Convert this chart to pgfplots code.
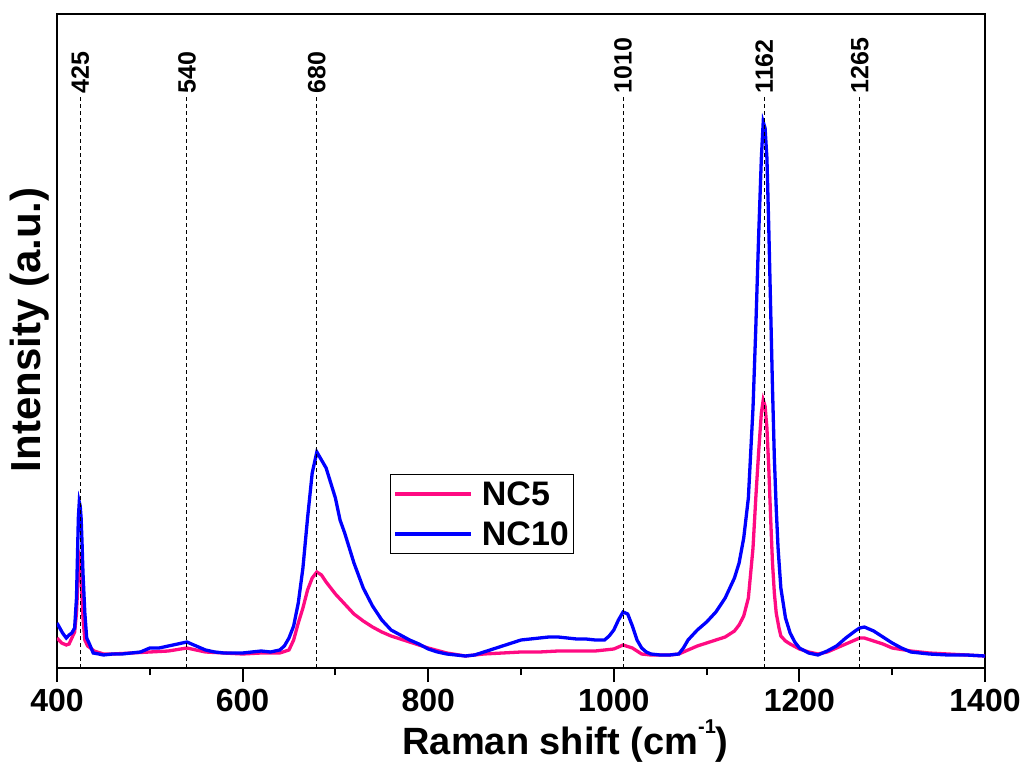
\documentclass[border=0pt]{standalone}
\usepackage{fontspec}
\setmainfont{Liberation Sans}
\usepackage{pgfplots}
\pgfplotsset{compat=1.18}
\definecolor{nc5}{RGB}{255,10,130}
\definecolor{nc10}{RGB}{0,0,255}
\begin{document}
\begin{tikzpicture}
\useasboundingbox (-57pt,-102pt) rectangle (967pt,668pt);
\begin{axis}[
    scale only axis,
    width=928pt, height=654pt,
    xmin=400, xmax=1400, ymin=0, ymax=654,
    xtick={400,600,...,1400},
    minor x tick num=1,
    ytick=\empty,
    xtick pos=bottom,
    tick align=outside,
    major tick length=14pt,
    minor tick length=7pt,
    every tick/.style={black, line width=2pt},
    axis line style={line width=2.5pt},
    /pgf/number format/assume math mode=true,
    /pgf/number format/1000 sep={},
    ticklabel style={font=\fontsize{32}{32}\selectfont\bfseries},
    xticklabel style={yshift=-4pt},
    xlabel={Raman shift (cm\raisebox{21pt}{\fontsize{20}{20}\selectfont -1})},
    ylabel={Intensity (a.u.)},
    xlabel style={font=\fontsize{38}{38}\selectfont\bfseries, at={(axis description cs:0.548,-0.133)}, anchor=base},
    ylabel style={font=\fontsize{42}{42}\selectfont\bfseries, at={(axis description cs:-0.03,0.517)}, anchor=center},
    legend style={at={(axis description cs:0.359,0.297)}, anchor=north west,
        font=\fontsize{34}{36}\selectfont\bfseries, draw=black, line width=1pt,
        row sep=11pt, inner xsep=3pt, inner ysep=5pt},
    legend cell align=left,
    legend image code/.code={\draw[#1] (0pt,0pt) -- (76pt,0pt);},
]
% NC5
\addplot[nc5, line width=3.3pt] coordinates {
(400,30) (405,25) (410,23) (413,24) (416,30) (419,36) (421,55) (422,75) (423,98) (424,113)
(425,110) (426,95) (427,70) (428,50) (430,28) (433,22) (436,20) (440,17) (450,14) (460,14)
(480,15) (500,16) (520,17) (540,20) (560,16) (580,15) (600,14) (620,15) (640,15) (650,18)
(655,28) (660,45) (665,60) (670,78) (675,90) (680,96) (685,93) (690,86) (695,80) (700,74)
(710,64) (720,54) (730,47) (740,41) (750,36) (760,32) (780,26) (800,20) (820,15) (840,12)
(860,14) (880,15) (900,16) (920,16) (940,17) (960,17) (980,17) (1000,19) (1010,23) (1020,20)
(1030,14) (1040,13) (1060,13) (1070,14) (1080,18) (1090,22) (1100,25) (1110,28) (1120,31) (1130,37)
(1135,43) (1140,52) (1145,70) (1150,120) (1153,170) (1156,215) (1159,255) (1161,268) (1163,262) (1165,240)
(1167,200) (1169,150) (1171,105) (1173,75) (1175,55) (1178,40) (1180,32) (1185,27) (1190,24) (1200,19)
(1210,16) (1220,14) (1230,16) (1240,20) (1250,24) (1260,28) (1265,30) (1270,30) (1280,27) (1290,24)
(1300,20) (1320,17) (1340,15) (1360,14) (1380,13) (1400,12)
};
\addlegendentry{\hspace{7pt}NC5}
% NC10
\addplot[nc10, line width=3.3pt] coordinates {
(400,45) (403,40) (406,35) (410,30) (413,33) (416,35) (419,40) (421,70) (422,110) (423,150)
(424,166) (425,162) (426,150) (427,125) (428,95) (430,55) (432,30) (435,24) (439,15) (445,14)
(450,13) (460,14) (470,14) (480,15) (490,16) (500,20) (510,20) (520,22) (530,24) (540,26)
(550,22) (560,18) (570,16) (580,15) (590,15) (600,15) (610,16) (620,17) (630,16) (640,18)
(645,22) (650,30) (655,42) (660,65) (665,100) (670,150) (675,195) (680,216) (685,208) (690,200)
(695,185) (700,170) (705,148) (710,135) (720,105) (730,80) (740,62) (750,48) (760,38) (770,33)
(780,28) (790,24) (800,19) (810,16) (820,14) (830,13) (840,12) (850,13) (860,16) (870,19)
(880,22) (890,25) (900,28) (910,29) (920,30) (930,31) (940,31) (950,30) (960,29) (970,29)
(980,28) (990,28) (995,32) (1000,38) (1005,48) (1010,56) (1015,54) (1020,42) (1025,28) (1030,20)
(1035,16) (1040,14) (1050,13) (1060,13) (1070,14) (1075,20) (1080,28) (1090,38) (1100,46) (1110,56)
(1120,70) (1130,90) (1135,105) (1140,130) (1145,170) (1150,260) (1153,340) (1156,430) (1159,510) (1161,546)
(1163,540) (1165,510) (1167,440) (1169,360) (1171,280) (1173,210) (1175,160) (1177,120) (1180,80) (1185,50)
(1190,35) (1195,26) (1200,20) (1210,15) (1220,13) (1230,17) (1240,22) (1250,30) (1260,37) (1265,40)
(1270,41) (1280,37) (1290,31) (1300,25) (1310,20) (1320,16) (1330,15) (1340,14) (1360,13) (1380,13)
(1400,12)
};
\addlegendentry{\hspace{7pt}NC10}
% peak positions
\pgfplotsinvokeforeach{425,540,680,1010,1162,1265}{
  \addplot[black, dashed, line width=1pt, dash pattern=on 4pt off 3pt, forget plot]
    coordinates {(#1,0) (#1,573)}
    node[pos=1, rotate=90, anchor=west, inner sep=1pt, font=\fontsize{25}{25}\selectfont\bfseries] {#1};
}
\end{axis}
\end{tikzpicture}
\end{document}
